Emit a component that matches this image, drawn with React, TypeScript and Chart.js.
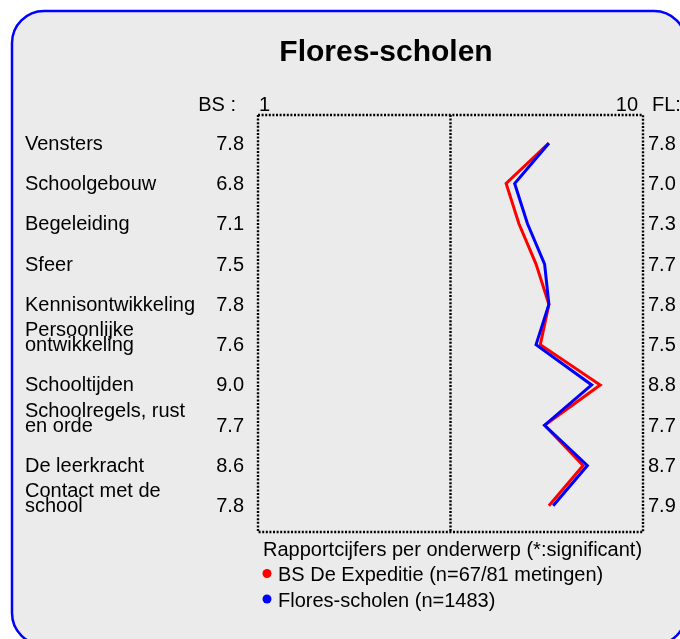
import React, { useEffect, useRef } from "react";
import { Chart, registerables } from "chart.js";

Chart.register(...registerables);

const TITLE = "Flores-scholen";
const categories = [
  "Vensters",
  "Schoolgebouw",
  "Begeleiding",
  "Sfeer",
  "Kennisontwikkeling",
  "Persoonlijke\nontwikkeling",
  "Schooltijden",
  "Schoolregels, rust\nen orde",
  "De leerkracht",
  "Contact met de\nschool",
];
const bsValues = [7.8, 6.8, 7.1, 7.5, 7.8, 7.6, 9.0, 7.7, 8.6, 7.8];
const flValues = [7.8, 7.0, 7.3, 7.7, 7.8, 7.5, 8.8, 7.7, 8.7, 7.9];
const xTicks = [1, 10];
const bsHeader = "BS :";
const flHeader = "FL:";
const legendTitle = "Rapportcijfers per onderwerp (*:significant)";
const bsLabel = "BS De Expeditie (n=67/81 metingen)";
const flLabel = "Flores-scholen (n=1483)";

const FONT = '"Liberation Sans", Arial, Helvetica, sans-serif';

function roundRectPath(ctx: CanvasRenderingContext2D, x: number, y: number, w: number, h: number, r: number) {
  ctx.beginPath();
  ctx.moveTo(x + r, y);
  ctx.lineTo(x + w - r, y);
  ctx.arcTo(x + w, y, x + w, y + r, r);
  ctx.lineTo(x + w, y + h - r);
  ctx.arcTo(x + w, y + h, x + w - r, y + h, r);
  ctx.lineTo(x + r, y + h);
  ctx.arcTo(x, y + h, x, y + h - r, r);
  ctx.lineTo(x, y + r);
  ctx.arcTo(x, y, x + r, y, r);
  ctx.closePath();
}

const panelPlugin = {
  id: "panelPlugin",
  beforeDraw(chart: any) {
    const ctx: CanvasRenderingContext2D = chart.ctx;
    const { width, height } = chart;
    const xs = chart.scales.x;
    const ys = chart.scales.y;
    const ca = chart.chartArea;
    ctx.save();
    ctx.fillStyle = "#ffffff";
    ctx.fillRect(0, 0, width, height);
    roundRectPath(ctx, 12, 11, 674, 634, 32);
    ctx.fillStyle = "#ebebeb";
    ctx.fill();
    ctx.lineWidth = 2.5;
    ctx.strokeStyle = "#0000ff";
    ctx.stroke();

    // title
    ctx.fillStyle = "#000";
    ctx.font = `bold 30px ${FONT}`;
    ctx.textAlign = "center";
    ctx.textBaseline = "alphabetic";
    ctx.fillText(TITLE, 386, 61);

    // headers and axis labels
    ctx.font = `20px ${FONT}`;
    ctx.textAlign = "right";
    ctx.fillText(bsHeader, 236, 111);
    ctx.textAlign = "left";
    ctx.fillText(flHeader, 652, 111);
    ctx.textAlign = "left";
    ctx.fillText(String(xTicks[0]), xs.getPixelForValue(xTicks[0]) + 1, 111);
    ctx.textAlign = "right";
    ctx.fillText(String(xTicks[1]), xs.getPixelForValue(xTicks[1]) - 5, 111);

    // category labels and values
    ctx.textBaseline = "middle";
    categories.forEach((c, i) => {
      const y = ys.getPixelForValue(i) + 1;
      const lines = c.split("\n");
      ctx.textAlign = "left";
      lines.forEach((ln, j) => ctx.fillText(ln, 25, y - (lines.length - 1 - j) * 15));
      ctx.textAlign = "right";
      ctx.fillText(bsValues[i].toFixed(1), 244, y);
      ctx.textAlign = "left";
      ctx.fillText(flValues[i].toFixed(1), 648, y);
    });

    // dotted frame + middle line
    ctx.setLineDash([2, 1.6]);
    ctx.lineWidth = 2.4;
    ctx.strokeStyle = "#000";
    ctx.strokeRect(ca.left, ca.top, ca.right - ca.left, ca.bottom - ca.top);
    const mid = xs.getPixelForValue((xs.min + xs.max) / 2);
    ctx.beginPath();
    ctx.moveTo(mid, ca.top);
    ctx.lineTo(mid, ca.bottom);
    ctx.stroke();
    ctx.restore();
  },
  afterDraw(chart: any) {
    const ctx: CanvasRenderingContext2D = chart.ctx;
    ctx.save();
    ctx.font = `20px ${FONT}`;
    ctx.fillStyle = "#000";
    ctx.textAlign = "left";
    ctx.textBaseline = "alphabetic";
    ctx.fillText(legendTitle, 263, 556);
    const items = [chart.data.datasets[1], chart.data.datasets[0]];
    items.forEach((ds: any, k: number) => {
      const base = 581 + k * 25.5;
      ctx.beginPath();
      ctx.fillStyle = ds.borderColor;
      ctx.arc(267, base - 7.5, 4.5, 0, Math.PI * 2);
      ctx.fill();
      ctx.fillStyle = "#000";
      ctx.fillText(ds.label, 278, base);
    });
    ctx.restore();
  },
};

export default function App() {
  const ref = useRef<HTMLCanvasElement | null>(null);
  useEffect(() => {
    if (!ref.current) return;
    const chart = new Chart(ref.current, {
      type: "line",
      data: {
        datasets: [
          {
            label: flLabel,
            data: flValues.map((v, i) => ({ x: v, y: i })),
            borderColor: "#0000ff",
            backgroundColor: "#0000ff",
            borderWidth: 3,
            pointRadius: 0,
            tension: 0,
            order: 0,
          },
          {
            label: bsLabel,
            data: bsValues.map((v, i) => ({ x: v, y: i })),
            borderColor: "#ff0000",
            backgroundColor: "#ff0000",
            borderWidth: 3,
            pointRadius: 0,
            tension: 0,
            order: 1,
          },
        ],
      },
      options: {
        animation: false,
        responsive: false,
        devicePixelRatio: 1,
        layout: { padding: { left: 258, right: 37, top: 115, bottom: 107 } },
        plugins: { legend: { display: false }, title: { display: false }, tooltip: { enabled: false } },
        scales: {
          x: { type: "linear", min: 1, max: 10, display: false },
          y: { type: "linear", min: -0.7, max: 9.65, reverse: true, display: false },
        },
      },
      plugins: [panelPlugin],
    } as any);
    return () => chart.destroy();
  }, []);
  return (
    <div style={{ position: "absolute", left: 0, top: 0, width: 680, height: 639 }}>
      <canvas ref={ref} width={680} height={639} />
    </div>
  );
}
